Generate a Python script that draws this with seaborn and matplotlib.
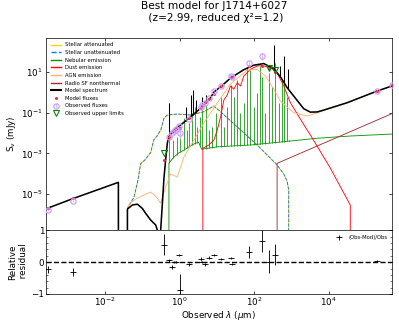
import numpy as np
import pandas as pd
import matplotlib
matplotlib.use("Agg")
import matplotlib.pyplot as plt
import matplotlib.ticker as mticker
import seaborn as sns

# ---------------- data (log10 wavelength [um], log10 flux [mJy]) ----------------
OFF = -12.0  # far below the axis (model drops to ~0)

stellar_logwl = [-1.402, -1.400, -1.225, -1.126, -1.046, -0.938, -0.777, -0.697, -0.590, -0.509,
                 -0.421, -0.330, -0.062, 0.295, 0.651, 0.920, 1.099, 1.547, 2.083, 2.619,
                 2.796, 2.887, 2.930, 2.932]
stellar_unatt_logflux = [OFF, -5.68, -5.14, -4.36, -3.50, -3.33, -2.95, -2.35, -2.10, -1.86,
                         -1.28, -1.12, -1.07, -1.12, -0.96, -0.68, -0.96, -1.70, -2.59, -3.57,
                         -4.01, -4.36, -4.80, OFF]
stellar_att_logflux = [OFF, -5.70, -5.16, -4.38, -3.52, -3.35, -2.97, -2.37, -2.12, -1.88,
                       -1.30, -1.13, -1.08, -1.12, -0.96, -0.68, -0.96, -1.70, -2.59, -3.57,
                       -4.01, -4.36, -4.80, OFF]

neb_logwl = [-0.289, -0.287, -0.153, -0.027, 0.115, 0.241, 0.383, 0.509, 0.590, 0.743,
             1.011, 1.903, 2.796, 3.692, 4.584, 5.745]
neb_logflux = [OFF, -3.475, -3.18, -2.985, -2.84, -2.69, -2.54, -2.45, -2.79, -2.755,
               -2.68, -2.59, -2.43, -2.26, -2.15, -2.05]
neb_line_logwl = [-0.287, -0.169, -0.080, 0.008, 0.115, 0.188, 0.249, 0.340, 0.402, 0.475,
                  0.544, 0.609, 0.697, 0.786, 0.877, 0.965, 1.099, 1.188, 1.279, 1.367,
                  1.456, 1.547, 1.635, 1.724, 1.815, 1.903, 1.992, 2.083, 2.153, 2.217,
                  2.306, 2.394, 2.485, 2.574, 2.662, 2.753, 2.815, 2.887, 2.930]
neb_line_logflux = [-0.549, -2.35, -2.19, -1.86, -1.28, -1.86, -1.53, -1.04, -0.72, -1.70,
                    -1.21, -0.88, -0.63, -1.86, -1.70, -1.04, -0.23, -1.70, -0.72, 0.35,
                    -0.23, 0.59, -1.04, -0.55, 1.25, 1.08, -0.72, -0.06, 1.30, 0.75,
                    -1.04, 0.92, 0.26, 1.41, -0.55, 0.59, 1.25, -0.23, -2.35]

dust_logwl = [0.623, 0.625, 0.786, 0.920, 1.011, 1.099, 1.188, 1.279, 1.367, 1.456,
              1.547, 1.635, 1.724, 1.903, 2.083, 2.225, 2.440, 2.619, 2.796, 2.976,
              3.324, 3.512, 4.048, 4.584, 4.586]
dust_logflux = [OFF, -2.75, -2.59, -2.35, -1.86, -1.22, -0.39, -0.14, 0.30, 0.14,
                0.46, 0.30, 0.79, 1.12, 1.28, 1.30, 1.20, 0.95, 0.30, -0.52,
                -1.56, -2.10, -3.72, -5.53, OFF]

agn_logwl = [-1.402, -1.400, -1.34, -1.18, -0.965, -0.777, -0.643, -0.509, -0.375, -0.241,
             -0.062, 0.115, 0.383, 0.651, 1.011, 1.367, 1.815, 2.083, 2.306, 2.528,
             2.708, 3.064, 3.424, 3.692, 3.869, 4.496, 5.300, 5.745]
agn_logflux = [OFF, -5.70, -5.44, -5.24, -5.04, -4.90, -5.09, -5.44, -4.65, -4.01,
               -4.16, -3.18, -2.35, -1.51, -0.53, 0.40, 1.08, 1.11, 0.79, 0.15,
               -0.44, -1.01, -1.17, -1.02, -0.90, -0.53, 0.04, 0.32]

radio_logwl = [2.617, 2.619, 5.745]
radio_logflux = [OFF, -3.49, -1.02]

model_logwl = [-3.65, -2.87, -1.645, -1.642, -1.404, -1.402, -1.268, -1.134, -1.000, -0.912,
               -0.777, -0.643, -0.598, -0.590, -0.515, -0.510, -0.465, -0.420, -0.375, -0.330,
               -0.290, -0.153, 0.027, 0.249, 0.563, 0.831, 0.920, 1.145, 1.367, 1.724,
               1.992, 2.260, 2.528, 2.720, 2.887, 3.064, 3.332, 3.512, 3.700, 3.869,
               4.496, 5.300, 5.745]
model_logflux = [-5.76, -5.22, -4.42, OFF, OFF, -5.73, -5.53, -5.49, -5.70, -5.94,
                 -6.27, -6.51, -6.76, OFF, OFF, -6.80, -5.50, -4.20, -3.30, -2.50,
                 -2.18, -1.86, -1.61, -1.28, -0.79, -0.27, 0.00, 0.33, 0.69, 1.10,
                 1.32, 1.40, 1.15, 0.72, 0.22, -0.19, -0.81, -0.98, -0.97, -0.88,
                 -0.52, 0.05, 0.33]
model_spike_logwl = [-0.287, 0.170, 0.295, 0.367, 0.429, 0.609, 0.697, 2.547, 2.689, 2.799, 2.912]
model_spike_logflux = [-0.52, -0.72, -0.14, 0.10, -0.39, -0.23, -0.14, 2.33, 1.28, 1.77, 1.11]

# photometry
filt_logwl = [-3.525, -2.869, -0.421, -0.287, -0.196, -0.153, -0.088, -0.019, 0.000, 0.249,
              0.563, 0.609, 0.670, 0.786, 0.920, 1.099, 1.367, 1.408, 1.858, 2.217,
              2.399, 2.560, 5.308, 5.697]
obs_logflux = [-5.755, -5.324, -3.000, -2.176, -2.005, -1.907, -1.809, -1.637, -2.005, -1.319,
               -0.730, -0.608, -0.510, -0.289, 0.039, 0.324, 0.789, 0.740, 1.426, 1.784,
               1.167, 1.108, 0.078, 0.338]
mod_logflux = [-5.665, -5.210, -3.347, -2.203, -1.944, -1.911, -1.809, -1.745, -1.733, -1.290,
               -0.771, -0.608, -0.481, -0.355, -0.075, 0.283, 0.729, 0.765, 1.259, 1.303,
               1.163, 0.989, 0.065, 0.338]
obs_rel_err = [0.12, 0.13, 0.33, 0.05, 0.05, 0.04, 0.04, 0.03, 0.50, 0.04,
               0.06, 0.03, 0.04, 0.04, 0.04, 0.03, 0.03, 0.03, 0.20, 0.35,
               0.36, 0.34, 0.04, 0.03]
is_uplim = [False, False, True, False, False, False, False, False, False, False,
            False, False, False, False, False, False, False, False, False, False,
            True, True, False, False]

title = "Best model for J1714+6027\n (z=2.99, reduced χ²=1.2)"
xlim_log = (-3.589, 5.705)
ylim_log = (-6.77, 2.667)

# ---------------- figure ----------------
DPI = 63
fig = plt.figure(figsize=(399 / DPI, 324 / DPI), dpi=DPI)
fig.patch.set_facecolor("white")
ax1 = fig.add_axes([0.1153, 0.2892, 0.8672, 0.5944])
ax2 = fig.add_axes([0.1153, 0.0926, 0.8672, 0.1966])
ax1.set_xscale("log")
ax1.set_yscale("log")
ax2.set_xscale("log")


def line(ax, lwl, lfl, **kw):
    d = pd.DataFrame({"wl": np.power(10.0, lwl), "f": np.power(10.0, lfl)})
    sns.lineplot(data=d, x="wl", y="f", ax=ax, sort=False, estimator=None,
                 errorbar=None, **kw)


def spikes(ax, cont_lwl, cont_lfl, lwl, lfl, **kw):
    base = np.interp(lwl, cont_lwl, cont_lfl)
    ax.vlines(np.power(10.0, lwl), np.power(10.0, base), np.power(10.0, lfl), **kw)


c_gold = "gold"
c_blue = "xkcd:deep sky blue"
c_green = "xkcd:true green"
c_red = "xkcd:bright red"
c_apricot = "xkcd:apricot"
c_brown = "brown"

line(ax1, stellar_logwl, stellar_att_logflux, color=c_gold, lw=1.0, label="Stellar attenuated ")
line(ax1, stellar_logwl, stellar_unatt_logflux, color=c_blue, lw=1.0, linestyle="--",
     label="Stellar unattenuated")
line(ax1, neb_logwl, neb_logflux, color=c_green, lw=1.0, label="Nebular emission")
spikes(ax1, neb_logwl[1:], neb_logflux[1:], neb_line_logwl, neb_line_logflux, color=c_green, lw=0.9)
line(ax1, dust_logwl, dust_logflux, color=c_red, lw=1.0, label="Dust emission")
line(ax1, agn_logwl, agn_logflux, color=c_apricot, lw=1.0, label="AGN emission")
line(ax1, radio_logwl, radio_logflux, color=c_brown, lw=1.0, label="Radio SF nonthermal")
line(ax1, model_logwl, model_logflux, color="k", lw=1.8, label="Model spectrum")
spikes(ax1, model_logwl[20:], model_logflux[20:], model_spike_logwl, model_spike_logflux,
       color="k", lw=1.2)

wl = np.power(10.0, np.array(filt_logwl))
obs = np.power(10.0, np.array(obs_logflux))
mod = np.power(10.0, np.array(mod_logflux))
err = np.array(obs_rel_err) * obs
up = np.array(is_uplim)
det = ~up

sns.scatterplot(x=wl, y=mod, ax=ax1, color="xkcd:strawberry", s=12, linewidth=0,
                zorder=3, label="Model fluxes")
ax1.errorbar(wl[det], obs[det], yerr=err[det], ls="", marker="o", label="Observed fluxes",
             markerfacecolor="none", markersize=6, markeredgewidth=1.4,
             markeredgecolor="xkcd:pastel purple",
             color="xkcd:light violet", capsize=0.0, zorder=3, lw=1)
ax1.errorbar(wl[up], obs[up], ls="", marker="v", label="Observed upper limits",
             markerfacecolor="none", markersize=6, markeredgewidth=1.2, markeredgecolor="g",
             color="g", capsize=0.0, zorder=3)

resid = (obs - mod) / obs
ax2.errorbar(wl, resid, yerr=np.array(obs_rel_err), marker="_", label="(Obs-Mod)/Obs",
             color="k", capsize=0.0, ls="None", lw=1)
ax2.axhline(0.0, ls="--", color="k", lw=1.6)

# axes
xmin, xmax = 10 ** xlim_log[0], 10 ** xlim_log[1]
for a in (ax1, ax2):
    a.set_xlim(xmin, xmax)
    a.xaxis.set_major_locator(mticker.FixedLocator([1e-2, 1e0, 1e2, 1e4]))
    a.xaxis.set_major_formatter(mticker.LogFormatterSciNotation())
    a.xaxis.set_minor_locator(mticker.NullLocator())
    a.set_xlabel("")
    a.set_ylabel("")
ax1.set_ylim(10 ** ylim_log[0], 10 ** ylim_log[1])
ax1.yaxis.set_major_locator(mticker.FixedLocator([1e-5, 1e-3, 1e-1, 1e1]))
ax1.yaxis.set_major_formatter(mticker.LogFormatterSciNotation())
ax1.yaxis.set_minor_locator(mticker.NullLocator())
ax2.set_ylim(-1.0, 1.0)
ax2.yaxis.set_major_locator(mticker.MultipleLocator(1.0))
ax2.yaxis.set_minor_locator(mticker.AutoMinorLocator())

ax1.tick_params(direction="in", axis="both", which="both", top=True, left=True, right=True,
                bottom=False, labelbottom=False, labelsize=10)
ax2.tick_params(direction="in", axis="both", which="both", right=True, labelsize=10, pad=2)

ax1.set_ylabel("S$_\\nu$ (mJy)", fontsize=10)
ax2.set_ylabel("Relative\n residual", fontsize=10)
ax2.set_xlabel("Observed $\\lambda$ ($\\mu$m)", fontsize=10, labelpad=1)

order = ["Stellar attenuated ", "Stellar unattenuated", "Nebular emission", "Dust emission",
         "AGN emission", "Radio SF nonthermal", "Model spectrum", "Model fluxes",
         "Observed fluxes", "Observed upper limits"]
h, l = ax1.get_legend_handles_labels()
hd = dict(zip(l, h))
leg = ax1.legend([hd[k] for k in order], order, fontsize=6, loc="upper left", frameon=False)
for ln in leg.get_lines():
    if ln.get_label() == "Model spectrum" or ln.get_color() in ("k", "black"):
        ln.set_linewidth(2.4)
    else:
        ln.set_linewidth(1.6)
ax2.legend(fontsize=6, loc="upper right", frameon=False)

fig.suptitle(title, x=0.536, y=0.997, va="top", fontsize=12)

fig.savefig("out.png", dpi=DPI, facecolor="white")
